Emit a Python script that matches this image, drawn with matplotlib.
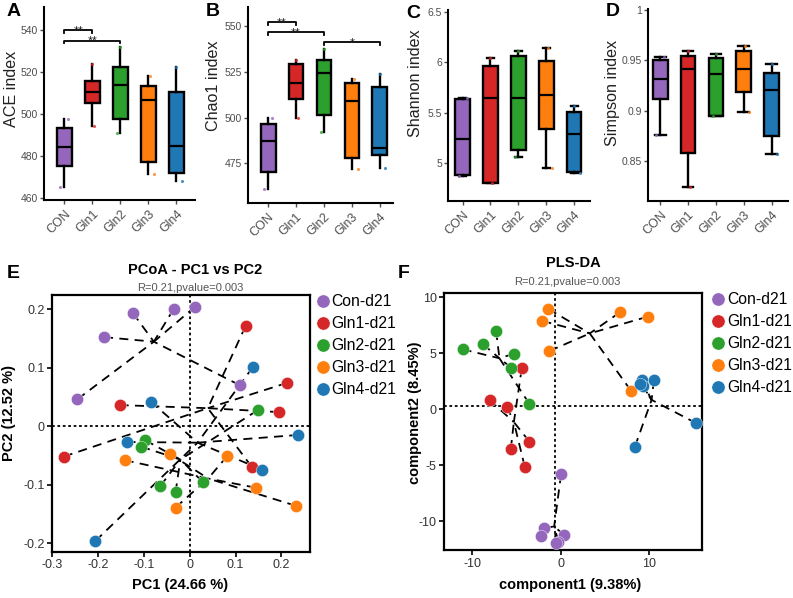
import matplotlib
matplotlib.use('Agg')
import matplotlib.pyplot as plt
import numpy as np
from matplotlib.lines import Line2D

plt.rcParams['font.family'] = ['Liberation Sans', 'DejaVu Sans']

W, H = 793, 598

groups = ['CON', 'Gln1', 'Gln2', 'Gln3', 'Gln4']
colors = ['#9467bd', '#d62728', '#2ca02c', '#ff7f0e', '#1f77b4']
legend_labels = ['Con-d21', 'Gln1-d21', 'Gln2-d21', 'Gln3-d21', 'Gln4-d21']

# ---- alpha diversity box statistics (whisker low, Q1, median, Q3, whisker high)
ace_lo = [465.4, 494.3, 490.8, 471.4, 468.0]
ace_q1 = [475.4, 505.4, 497.5, 477.1, 472.0]
ace_med = [484.3, 510.6, 513.8, 506.5, 484.8]
ace_q3 = [493.2, 515.6, 522.4, 513.2, 510.5]
ace_hi = [497.8, 523.7, 531.7, 518.2, 522.5]

chao_lo = [460.9, 499.9, 492.2, 471.9, 472.6]
chao_q1 = [470.2, 510.3, 501.5, 477.9, 479.9]
chao_med = [487.2, 518.9, 524.7, 509.0, 483.5]
chao_q3 = [496.4, 529.2, 531.3, 519.0, 517.0]
chao_hi = [500.1, 531.4, 537.6, 521.0, 523.9]

shan_lo = [4.875, 4.80, 5.063, 4.948, 4.90]
shan_q1 = [4.881, 4.805, 5.133, 5.341, 4.908]
shan_med = [5.236, 5.646, 5.646, 5.673, 5.285]
shan_q3 = [5.640, 5.964, 6.066, 6.016, 5.507]
shan_hi = [5.646, 6.040, 6.116, 6.140, 5.567]

simp_lo = [0.8754, 0.8237, 0.895, 0.8984, 0.857]
simp_q1 = [0.912, 0.858, 0.895, 0.9187, 0.8747]
simp_med = [0.9314, 0.941, 0.9364, 0.9414, 0.9204]
simp_q3 = [0.9504, 0.9547, 0.952, 0.9594, 0.9377]
simp_hi = [0.953, 0.9594, 0.956, 0.964, 0.9464]

# significance brackets: (group index start, group index end, y, label)
ace_sig_x0 = [0, 0]
ace_sig_x1 = [1, 2]
ace_sig_y = [540.0, 535.0]
ace_sig_lab = ['**', '**']
chao_sig_x0 = [0, 0, 2]
chao_sig_x1 = [1, 2, 4]
chao_sig_y = [552.4, 546.7, 541.3]
chao_sig_lab = ['**', '**', '*']

# ---- PCoA scores (PC1, PC2) per group
pcoa_x = {
    'Con-d21': [0.012, -0.035, -0.124, -0.187, -0.245, 0.109],
    'Gln1-d21': [0.122, 0.213, 0.195, -0.153, -0.275, 0.135],
    'Gln2-d21': [0.148, -0.097, -0.106, 0.028, -0.064, -0.031],
    'Gln3-d21': [-0.044, -0.142, 0.082, 0.144, 0.232, -0.031],
    'Gln4-d21': [0.138, -0.085, 0.237, -0.138, 0.157, -0.206],
}
pcoa_y = {
    'Con-d21': [0.204, 0.200, 0.193, 0.152, 0.046, 0.070],
    'Gln1-d21': [0.171, 0.074, 0.024, 0.036, -0.052, -0.069],
    'Gln2-d21': [0.027, -0.024, -0.035, -0.095, -0.102, -0.113],
    'Gln3-d21': [-0.047, -0.058, -0.051, -0.105, -0.136, -0.139],
    'Gln4-d21': [0.101, 0.042, -0.015, -0.027, -0.074, -0.196],
}

# ---- PLS-DA scores (component1, component2) per group
pls_x = {
    'Con-d21': [0.04, -1.88, -2.26, 0.41, -0.26, -0.5],
    'Gln1-d21': [-4.41, -8.06, -6.10, -3.54, -5.65, -4.07],
    'Gln2-d21': [-11.11, -8.81, -7.31, -5.27, -5.61, -3.54],
    'Gln3-d21': [-1.39, -2.07, -1.28, 6.70, 9.83, 7.95],
    'Gln4-d21': [9.15, 10.55, 9.27, 15.37, 8.40, 9.0],
}
pls_y = {
    'Con-d21': [-5.80, -10.63, -11.28, -11.25, -11.82, -11.9],
    'Gln1-d21': [3.66, 0.83, 0.24, -2.89, -3.54, -5.12],
    'Gln2-d21': [5.36, 5.83, 6.99, 4.97, 3.72, 0.48],
    'Gln3-d21': [8.96, 7.89, 5.21, 8.66, 8.27, 1.67],
    'Gln4-d21': [2.62, 2.62, 2.11, -1.25, -3.33, 2.3],
}
pls_ref_x = -0.7
pls_ref_y = 0.33

fig = plt.figure(figsize=(W / 100, H / 100), dpi=100)


def add_ax(l, t, r, b):
    return fig.add_axes([l / W, 1 - b / H, (r - l) / W, (b - t) / H])


TICK_C = '#4d4d4d'


def box_panel(rect, xlim, lo, q1, med, q3, hi, ylim, yticks, yticklabels,
              ylabel, ylabel_xy, letter, letter_xy, caps, capw):
    ax = add_ax(*rect)
    stats = []
    for i in range(len(groups)):
        stats.append(dict(whislo=lo[i], q1=q1[i], med=med[i], q3=q3[i],
                          whishi=hi[i], fliers=[], label=groups[i]))
    kw = dict(positions=np.arange(len(groups)), widths=0.53, patch_artist=True,
              showfliers=False, showcaps=caps,
              boxprops=dict(edgecolor='black', linewidth=1.7),
              medianprops=dict(color='black', linewidth=1.6),
              whiskerprops=dict(color='black', linewidth=1.7),
              capprops=dict(color='black', linewidth=1.7))
    if caps:
        kw['capwidths'] = capw
    bp = ax.bxp(stats, **kw)
    for patch, c in zip(bp['boxes'], colors):
        patch.set_facecolor(c)
    # sample dots at extremes
    lo_off = [-0.14, 0.06, -0.12, 0.2, 0.2]
    hi_off = [0.15, 0.0, 0.0, 0.06, 0.0]
    for i in range(len(groups)):
        ax.scatter([i + lo_off[i], i + hi_off[i]], [lo[i], hi[i]], s=5,
                   color=colors[i], zorder=4, alpha=0.8, linewidths=0)
    ax.set_xlim(*xlim)
    ax.set_ylim(*ylim)
    ax.set_yticks(yticks)
    ax.set_yticklabels(yticklabels)
    ax.set_xticks(np.arange(len(groups)))
    ax.set_xticklabels(groups, rotation=45, ha='right', rotation_mode='anchor')
    for s in ['top', 'right']:
        ax.spines[s].set_visible(False)
    for s in ['left', 'bottom']:
        ax.spines[s].set_linewidth(1.5)
    ax.tick_params(axis='both', colors=TICK_C, length=3,
                   width=1.0, labelcolor=TICK_C)
    ax.tick_params(axis='y', labelsize=7.5, pad=1.2)
    ax.tick_params(axis='x', labelsize=9, pad=3)
    fig.text(ylabel_xy[0] / W, 1 - ylabel_xy[1] / H, ylabel, rotation=90,
             ha='center', va='center', fontsize=11.6, color='#222222')
    fig.text(letter_xy[0] / W, 1 - letter_xy[1] / H, letter, fontsize=14,
             fontweight='bold', ha='left', va='center')
    return ax


def brackets(ax, x0s, x1s, ys, labs, drop):
    for x0, x1, y, lab in zip(x0s, x1s, ys, labs):
        ax.plot([x0, x0, x1, x1], [y - drop, y, y, y - drop], color='black',
                lw=1.3, clip_on=False)
        ax.annotate(lab, xy=((x0 + x1) / 2, y), xytext=(0, -3.0),
                    textcoords='offset points', ha='center', va='baseline',
                    fontsize=9, color='#222222', annotation_clip=False)


axA = box_panel((44, 7, 195, 200), (-0.72, 4.66), ace_lo, ace_q1, ace_med,
                ace_q3, ace_hi, (459, 551), [460, 480, 500, 520, 540],
                ['460', '480', '500', '520', '540'], 'ACE index', (12, 89),
                'A', (7, 12), False, None)
brackets(axA, ace_sig_x0, ace_sig_x1, ace_sig_y, ace_sig_lab, 1.3)

axB = box_panel((248, 7, 393, 203), (-0.72, 4.47), chao_lo, chao_q1, chao_med,
                chao_q3, chao_hi, (453.4, 560.5), [475, 500, 525, 550],
                ['475', '500', '525', '550'], 'Chao1 index', (214, 86), 'B',
                (206, 12), False, None)
brackets(axB, chao_sig_x0, chao_sig_x1, chao_sig_y, chao_sig_lab, 1.5)

axC = box_panel((448, 10, 590, 201), (-0.52, 4.57), shan_lo, shan_q1,
                shan_med, shan_q3, shan_hi, (4.623, 6.52), [5, 5.5, 6, 6.5],
                ['5', '5.5', '6', '6.5'], 'Shannon index', (416, 83), 'C',
                (406, 13), True, 0.25)

axD = box_panel((648, 9, 788, 201), (-0.44, 4.59), simp_lo, simp_q1, simp_med,
                simp_q3, simp_hi, (0.8097, 1.0014), [0.85, 0.9, 0.95, 1.0],
                ['0.85', '0.9', '0.95', '1'], 'Simpson index', (612, 93), 'D',
                (606, 12), True, 0.38)


def scatter_panel(rect, xs, ys, xlim, ylim, xticks, xticklabels, yticks,
                  yticklabels, refx, refy, title, title_xy, sub_xy, xlabel,
                  xlabel_xy, ylabel, ylabel_xy, letter, letter_xy, leg_anchor):
    ax = add_ax(*rect)
    ax.axvline(refx, color='black', ls=(0, (1.5, 1.5)), lw=1.3, zorder=1)
    ax.axhline(refy, color='black', ls=(0, (1.5, 1.5)), lw=1.3, zorder=1)
    for lab in legend_labels:
        px = np.array(xs[lab])
        py = np.array(ys[lab])
        cx, cy = px.mean(), py.mean()
        for a, b in zip(px, py):
            ax.plot([a, cx], [b, cy], color='black', lw=1.3,
                    dashes=(5, 3.5), zorder=2)
    for lab, c in zip(legend_labels, colors):
        ax.scatter(xs[lab], ys[lab], s=78, color=c, zorder=3,
                   edgecolors='white', linewidths=0.3)
    ax.set_xlim(*xlim)
    ax.set_ylim(*ylim)
    ax.set_xticks(xticks)
    ax.set_xticklabels(xticklabels)
    ax.set_yticks(yticks)
    ax.set_yticklabels(yticklabels)
    for s in ax.spines.values():
        s.set_linewidth(1.6)
    ax.tick_params(axis='both', labelsize=9, colors='black', labelcolor='#333333',
                   length=3.5, width=1.2, pad=2)
    fig.text(title_xy[0] / W, 1 - title_xy[1] / H, title, ha='center',
             va='center', fontsize=10.5, fontweight='bold')
    fig.text(sub_xy[0] / W, 1 - sub_xy[1] / H, 'R=0.21,pvalue=0.003',
             ha='center', va='center', fontsize=8, color='#555555')
    fig.text(xlabel_xy[0] / W, 1 - xlabel_xy[1] / H, xlabel, ha='center',
             va='center', fontsize=10.5, fontweight='bold')
    fig.text(ylabel_xy[0] / W, 1 - ylabel_xy[1] / H, ylabel, ha='center',
             va='center', fontsize=10.5, fontweight='bold', rotation=90)
    fig.text(letter_xy[0] / W, 1 - letter_xy[1] / H, letter, fontsize=14,
             fontweight='bold', ha='left', va='center')
    handles = [Line2D([0], [0], marker='o', ls='', markersize=9.5,
                      markerfacecolor=c, markeredgecolor='white',
                      markeredgewidth=0.3) for c in colors]
    fig.legend(handles, legend_labels, loc='upper left',
               bbox_to_anchor=(leg_anchor[0] / W, 1 - leg_anchor[1] / H),
               frameon=False, fontsize=11.3, handlelength=0.8,
               handletextpad=0.15, borderpad=0, borderaxespad=0,
               labelspacing=0.45)
    return ax


axE = scatter_panel((52.3, 295, 310, 551.7), pcoa_x, pcoa_y,
                    (-0.3, 0.2626), (-0.2143, 0.2239),
                    [-0.3, -0.2, -0.1, 0, 0.1, 0.2],
                    ['-0.3', '-0.2', '-0.1', '0', '0.1', '0.2'],
                    [-0.2, -0.1, 0, 0.1, 0.2],
                    ['-0.2', '-0.1', '0', '0.1', '0.2'],
                    0, 0, 'PCoA - PC1 vs PC2', (195, 270), (190, 288),
                    'PC1 (24.66 %)', (180, 585), 'PC2 (12.52 %)', (9, 413),
                    'E', (7, 273), (316.5, 294))

axF = scatter_panel((444.3, 293.3, 702.3, 550), pls_x, pls_y,
                    (-13.18, 16.03), (-12.56, 10.36),
                    [-10, 0, 10], ['-10', '0', '10'],
                    [-10, -5, 0, 5, 10], ['-10', '-5', '0', '5', '10'],
                    pls_ref_x, pls_ref_y, 'PLS-DA', (573, 263), (567, 282),
                    'component1 (9.38%)', (570, 585), 'component2 (8.45%)',
                    (415, 413), 'F', (398, 273), (712, 292))

fig.savefig('out.png', dpi=100)
